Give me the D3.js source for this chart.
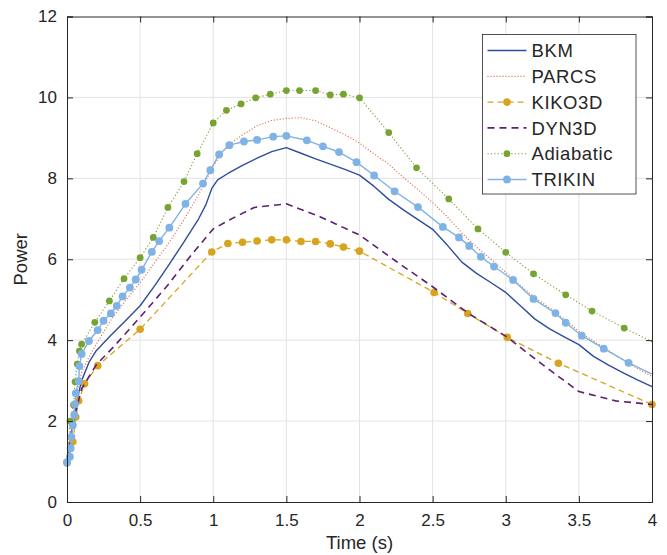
<!DOCTYPE html>
<html>
<head>
<meta charset="utf-8">
<script src="https://cdn.jsdelivr.net/npm/d3@7"></script>
<style>
  html, body { margin: 0; padding: 0; background: #fff; overflow: hidden; }
  svg { display: block; }
  text { font-family: "Liberation Sans", Arial, sans-serif; fill: #262626; }
</style>
</head>
<body>
<div id="chart"></div>
<script>
// BKM
const bkmT = [0, 0.02, 0.04, 0.06, 0.08, 0.1, 0.15, 0.2, 0.3, 0.4, 0.5, 0.6, 0.7, 0.8, 0.9, 0.95, 0.99, 1.03, 1.1, 1.2, 1.3, 1.4, 1.5, 1.6, 1.7, 1.8, 1.9, 2.0, 2.1, 2.2, 2.3, 2.4, 2.5, 2.6, 2.7, 2.8, 2.9, 3.0, 3.1, 3.2, 3.3, 3.4, 3.5, 3.6, 3.7, 3.8, 3.9, 4.0];
const bkmP = [1.0, 1.5, 1.95, 2.35, 2.7, 3.0, 3.45, 3.74, 4.12, 4.48, 4.85, 5.35, 5.88, 6.43, 7.0, 7.35, 7.75, 7.96, 8.12, 8.32, 8.5, 8.66, 8.76, 8.62, 8.48, 8.35, 8.22, 8.08, 7.8, 7.48, 7.22, 6.98, 6.74, 6.35, 5.93, 5.65, 5.42, 5.18, 4.85, 4.52, 4.28, 4.08, 3.89, 3.6, 3.39, 3.2, 3.02, 2.85];
// PARCS
const parcsT = [0, 0.02, 0.04, 0.06, 0.08, 0.1, 0.15, 0.2, 0.3, 0.4, 0.5, 0.6, 0.7, 0.8, 0.9, 1.0, 1.05, 1.1, 1.2, 1.3, 1.4, 1.5, 1.6, 1.7, 1.8, 1.9, 2.0, 2.1, 2.2, 2.3, 2.4, 2.5, 2.6, 2.7, 2.8, 2.9, 3.0, 3.1, 3.2, 3.3, 3.4, 3.5, 3.6, 3.7, 3.8, 3.9, 4.0];
const parcsP = [1.0, 1.6, 2.1, 2.55, 2.9, 3.2, 3.58, 3.9, 4.5, 4.98, 5.42, 5.92, 6.42, 6.98, 7.6, 8.3, 8.58, 8.82, 9.07, 9.3, 9.43, 9.48, 9.5, 9.42, 9.25, 9.08, 8.87, 8.6, 8.35, 8.02, 7.72, 7.4, 7.05, 6.65, 6.3, 6.0, 5.68, 5.35, 5.05, 4.8, 4.52, 4.22, 3.98, 3.75, 3.52, 3.3, 3.1];
// KIKO3D
const kikoT = [0, 0.04, 0.06, 0.08, 0.12, 0.21, 0.5, 0.99, 1.1, 1.2, 1.3, 1.4, 1.5, 1.6, 1.7, 1.8, 1.89, 2.0, 2.51, 2.74, 3.01, 3.36, 4.0];
const kikoP = [0.98, 1.49, 2.1, 2.5, 2.92, 3.37, 4.27, 6.18, 6.39, 6.42, 6.45, 6.48, 6.48, 6.44, 6.44, 6.38, 6.3, 6.2, 5.18, 4.66, 4.07, 3.43, 2.41];
// DYN3D
const dynT = [0, 0.02, 0.05, 0.1, 0.2, 0.32, 0.5, 0.68, 0.86, 1.0, 1.12, 1.28, 1.5, 1.73, 2.0, 2.25, 2.5, 2.75, 3.0, 3.25, 3.5, 3.75, 4.0];
const dynP = [1.0, 1.5, 2.1, 2.8, 3.39, 3.84, 4.57, 5.32, 6.15, 6.75, 6.99, 7.28, 7.37, 7.05, 6.6, 5.95, 5.32, 4.65, 4.1, 3.4, 2.73, 2.5, 2.41];
// Adiabatic
const adiT = [0, 0.02, 0.045, 0.055, 0.07, 0.085, 0.1, 0.19, 0.29, 0.39, 0.5, 0.59, 0.69, 0.8, 0.89, 1.0, 1.09, 1.19, 1.29, 1.39, 1.5, 1.59, 1.7, 1.8, 1.89, 2.0, 2.2, 2.39, 2.61, 2.81, 3.0, 3.19, 3.41, 3.59, 3.81, 4.0];
const adiP = [0.96, 2.0, 2.4, 2.97, 3.41, 3.73, 3.9, 4.44, 4.97, 5.52, 6.04, 6.54, 7.28, 7.92, 8.61, 9.37, 9.68, 9.84, 9.99, 10.08, 10.17, 10.17, 10.17, 10.06, 10.08, 9.99, 9.13, 8.26, 7.49, 6.75, 6.17, 5.64, 5.12, 4.72, 4.3, 3.96];
// TRIKIN
const triT = [0, 0.02, 0.025, 0.03, 0.04, 0.05, 0.055, 0.06, 0.08, 0.085, 0.1, 0.15, 0.21, 0.25, 0.3, 0.34, 0.38, 0.43, 0.47, 0.51, 0.58, 0.63, 0.7, 0.81, 0.93, 0.98, 1.04, 1.11, 1.21, 1.3, 1.41, 1.5, 1.64, 1.75, 1.86, 1.98, 2.1, 2.24, 2.4, 2.57, 2.68, 2.75, 2.83, 2.92, 3.05, 3.19, 3.34, 3.41, 3.52, 3.67, 3.84, 4.0];
const triP = [0.98, 1.12, 1.33, 1.61, 1.9, 2.15, 2.42, 2.69, 2.99, 3.36, 3.66, 3.98, 4.25, 4.48, 4.66, 4.85, 5.08, 5.3, 5.5, 5.74, 6.18, 6.45, 6.78, 7.37, 7.87, 8.2, 8.59, 8.82, 8.91, 8.95, 9.03, 9.05, 8.94, 8.79, 8.65, 8.4, 8.07, 7.68, 7.29, 6.8, 6.54, 6.33, 6.06, 5.82, 5.49, 5.02, 4.67, 4.43, 4.11, 3.79, 3.44, 3.16];

const xTicks = [0, 0.5, 1, 1.5, 2, 2.5, 3, 3.5, 4];
const yTicks = [0, 2, 4, 6, 8, 10, 12];

const series = [
  { name: 'BKM', t: bkmT, p: bkmP, color: '#2f4d9c', width: 1.4, dash: null, marker: false },
  { name: 'PARCS', t: parcsT, p: parcsP, color: '#d9653e', width: 1.2, dash: '1 2', marker: false },
  { name: 'KIKO3D', t: kikoT, p: kikoP, color: '#d6a41e', width: 1.3, dash: '6 4', marker: true, r: 3.8, markLast: true },
  { name: 'DYN3D', t: dynT, p: dynP, color: '#5f1f73', width: 1.6, dash: '7 5', marker: false },
  { name: 'Adiabatic', t: adiT, p: adiP, color: '#77a330', width: 1.1, dash: '1.2 2.2', marker: true, r: 3.4, markLast: false },
  { name: 'TRIKIN', t: triT, p: triP, color: '#7fb2e5', width: 1.4, dash: null, marker: true, r: 3.9, markLast: false }
];

const width = 667, height = 555;
const margin = { top: 16.5, right: 15, bottom: 53, left: 67 };
const innerWidth = width - margin.left - margin.right;
const innerHeight = height - margin.top - margin.bottom;

const svg = d3.select('#chart').append('svg')
  .attr('width', width).attr('height', height);
const g = svg.append('g').attr('transform', `translate(${margin.left},${margin.top})`);

const xScale = d3.scaleLinear().domain([0, 4]).range([0, innerWidth]);
const yScale = d3.scaleLinear().domain([0, 12]).range([innerHeight, 0]);

// grid
g.append('g').selectAll('line').data(xTicks.slice(1, -1)).join('line')
  .attr('x1', d => xScale(d)).attr('x2', d => xScale(d))
  .attr('y1', 0).attr('y2', innerHeight)
  .attr('stroke', '#e3e3e3').attr('stroke-width', 1);
g.append('g').selectAll('line').data(yTicks.slice(1, -1)).join('line')
  .attr('y1', d => yScale(d)).attr('y2', d => yScale(d))
  .attr('x1', 0).attr('x2', innerWidth)
  .attr('stroke', '#e3e3e3').attr('stroke-width', 1);

svg.append('defs').append('clipPath').attr('id', 'clip')
  .append('rect').attr('x', -6).attr('y', -6).attr('width', innerWidth + 12).attr('height', innerHeight + 12);

const line = d3.line().x(d => xScale(d[0])).y(d => yScale(d[1]));
const plot = g.append('g').attr('clip-path', 'url(#clip)');

series.forEach(s => {
  const pts = s.t.map((t, i) => [t, s.p[i]]);
  plot.append('path').datum(pts)
    .attr('d', line)
    .attr('fill', 'none')
    .attr('stroke', s.color)
    .attr('stroke-width', s.width)
    .attr('stroke-dasharray', s.dash)
    .attr('stroke-linejoin', 'round');
  if (s.marker) {
    const mpts = s.markLast ? pts : pts.slice(0, -1);
    plot.append('g').selectAll('circle').data(mpts).join('circle')
      .attr('cx', d => xScale(d[0])).attr('cy', d => yScale(d[1]))
      .attr('r', s.r).attr('fill', s.color);
  }
});

// axes
const axisColor = '#262626';
const xAxis = d3.axisBottom(xScale).tickValues(xTicks).tickSize(-6).tickPadding(12).tickFormat(d3.format('~g'));
const yAxis = d3.axisLeft(yScale).tickValues(yTicks).tickSize(-6).tickPadding(10);
const xAxisG = g.append('g').attr('transform', `translate(0,${innerHeight})`).call(xAxis);
const yAxisG = g.append('g').call(yAxis);
const xTopG = g.append('g').call(d3.axisTop(xScale).tickValues(xTicks).tickSize(-6));
const yRightG = g.append('g').attr('transform', `translate(${innerWidth},0)`).call(d3.axisRight(yScale).tickValues(yTicks).tickSize(-6));
// top and right: box lines with inward ticks only
xTopG.selectAll('.tick text').remove();
yRightG.selectAll('.tick text').remove();
[xAxisG, yAxisG, xTopG, yRightG].forEach(a => {
  a.select('.domain').attr('stroke', axisColor).attr('stroke-width', 1);
  a.selectAll('.tick line').attr('stroke', axisColor);
  a.selectAll('.tick text').attr('font-size', 17).attr('fill', axisColor)
    .attr('font-family', '"Liberation Sans", Arial, sans-serif');
});
xAxisG.selectAll('.tick text').attr('dy', '0.71em');

g.append('text')
  .attr('x', innerWidth / 2).attr('y', innerHeight + 47)
  .attr('text-anchor', 'middle').attr('font-size', 18.5)
  .text('Time (s)');
g.append('text')
  .attr('transform', `translate(${-40},${innerHeight / 2}) rotate(-90)`)
  .attr('text-anchor', 'middle').attr('font-size', 18.5)
  .text('Power');

// legend
const lx = 482.5, ly = 34.5, lw = 153.5, lh = 159.5, rowH = 25.8;
const legend = svg.append('g');
legend.append('rect')
  .attr('x', lx).attr('y', ly).attr('width', lw).attr('height', lh)
  .attr('fill', '#fff').attr('stroke', axisColor).attr('stroke-width', 0.8);
series.forEach((s, i) => {
  const y = ly + 16 + i * rowH;
  legend.append('line')
    .attr('x1', lx + 5).attr('x2', lx + 44).attr('y1', y).attr('y2', y)
    .attr('stroke', s.color).attr('stroke-width', s.width)
    .attr('stroke-dasharray', s.dash);
  if (s.marker) {
    legend.append('circle').attr('cx', lx + 24.5).attr('cy', y).attr('r', s.r).attr('fill', s.color);
  }
  legend.append('text')
    .attr('x', lx + 49).attr('y', y).attr('dy', '0.36em')
    .attr('font-size', 18.5).attr('letter-spacing', 0.6)
    .text(s.name);
});
</script>
</body>
</html>
